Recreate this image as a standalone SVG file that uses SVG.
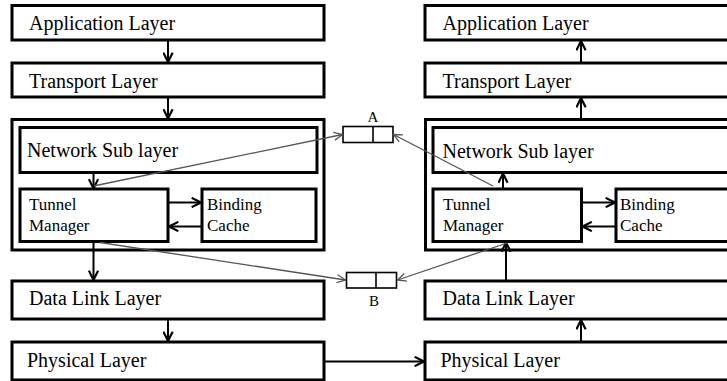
<svg xmlns="http://www.w3.org/2000/svg" width="727" height="381" viewBox="0 0 727 381">
  <style>
    .box { fill: #fff; stroke: #000; stroke-width: 3; }
    .buf { fill: #fff; stroke: #000; stroke-width: 1.6; }
    .lbl { font-family: "Liberation Serif", "Times New Roman", serif; font-size: 20px; fill: #000; }
    .sm { font-family: "Liberation Serif", "Times New Roman", serif; font-size: 17px; fill: #000; }
    .tag { font-family: "Liberation Serif", "Times New Roman", serif; font-size: 15px; fill: #000; text-anchor: middle; }
    .flow { stroke: #000; stroke-width: 2; fill: none; marker-end: url(#arr); }
    .tun { stroke: #555; stroke-width: 1.3; fill: none; marker-end: url(#arrG); }
  </style>
  <defs>
    <marker id="arr" viewBox="0 0 10 10" refX="9.5" refY="5" markerWidth="11" markerHeight="11" markerUnits="userSpaceOnUse" orient="auto">
      <path d="M1,0.8 L9.5,5 L1,9.2" fill="none" stroke="#000" stroke-width="2"/>
    </marker>
    <marker id="arrG" viewBox="0 0 10 10" refX="9.5" refY="5" markerWidth="10" markerHeight="10" markerUnits="userSpaceOnUse" orient="auto">
      <path d="M1,1 L9.5,5 L1,9" fill="none" stroke="#555" stroke-width="1.3"/>
    </marker>
  </defs>
  <rect width="727" height="381" fill="#fff"/>

  <!-- sending stack -->
  <g id="l-app">
    <rect class="box" x="12" y="5.5" width="312" height="34.5"/>
    <text class="lbl" x="29" y="30">Application Layer</text>
  </g>
  <g id="l-transport">
    <rect class="box" x="12" y="63" width="312" height="34"/>
    <text class="lbl" x="29" y="87.5">Transport Layer</text>
  </g>
  <g id="l-network">
    <rect class="box" x="12" y="119.5" width="312" height="130.5"/>
    <g id="l-netsub">
      <rect class="box" x="20" y="127.5" width="297" height="45"/>
      <text class="lbl" x="27" y="157">Network Sub layer</text>
    </g>
    <g id="l-tunnel">
      <rect class="box" x="20" y="189" width="148" height="52.5"/>
      <text class="sm" x="29" y="210">Tunnel</text>
      <text class="sm" x="29" y="231">Manager</text>
    </g>
    <g id="l-binding">
      <rect class="box" x="202" y="189" width="114" height="52.5"/>
      <text class="sm" x="207" y="210">Binding</text>
      <text class="sm" x="207" y="231">Cache</text>
    </g>
  </g>
  <g id="l-datalink">
    <rect class="box" x="12" y="281" width="312" height="38"/>
    <text class="lbl" x="29" y="305">Data Link Layer</text>
  </g>
  <g id="l-physical">
    <rect class="box" x="12" y="342" width="312" height="38"/>
    <text class="lbl" x="27" y="367">Physical Layer</text>
  </g>

  <!-- receiving stack (runs past the right edge) -->
  <g id="r-app">
    <rect class="box" x="425" y="5.5" width="320" height="34.5"/>
    <text class="lbl" x="442.5" y="30">Application Layer</text>
  </g>
  <g id="r-transport">
    <rect class="box" x="425" y="63" width="320" height="34"/>
    <text class="lbl" x="442.5" y="87.5">Transport Layer</text>
  </g>
  <g id="r-network">
    <rect class="box" x="425.5" y="119.5" width="320" height="130.5"/>
    <g id="r-netsub">
      <rect class="box" x="433" y="127.5" width="310" height="45"/>
      <text class="lbl" x="442.5" y="157.5">Network Sub layer</text>
    </g>
    <g id="r-tunnel">
      <rect class="box" x="433" y="189" width="148.5" height="52.5"/>
      <text class="sm" x="443" y="210">Tunnel</text>
      <text class="sm" x="443" y="231">Manager</text>
    </g>
    <g id="r-binding">
      <rect class="box" x="616" y="189" width="125" height="52.5"/>
      <text class="sm" x="620" y="210">Binding</text>
      <text class="sm" x="620" y="231">Cache</text>
    </g>
  </g>
  <g id="r-datalink">
    <rect class="box" x="425" y="281" width="320" height="38"/>
    <text class="lbl" x="442.5" y="305">Data Link Layer</text>
  </g>
  <g id="r-physical">
    <rect class="box" x="425" y="342" width="320" height="38"/>
    <text class="lbl" x="440.5" y="367">Physical Layer</text>
  </g>

  <!-- tunnel buffers -->
  <g id="buf-a">
    <rect class="buf" x="343" y="126.5" width="50" height="16"/>
    <line x1="373" y1="126.5" x2="373" y2="142.5" stroke="#000" stroke-width="1.6"/>
    <text class="tag" x="373" y="121.5">A</text>
  </g>
  <g id="buf-b">
    <rect class="buf" x="346.5" y="272.5" width="50" height="15.5"/>
    <line x1="376" y1="272.5" x2="376" y2="288" stroke="#000" stroke-width="1.6"/>
    <text class="tag" x="374" y="306">B</text>
  </g>

  <g id="connectors">
    <!-- sending side, top to bottom -->
    <line class="flow" x1="168" y1="40" x2="168" y2="62"/>
    <line class="flow" x1="168" y1="97" x2="168" y2="118.5"/>
    <line class="flow" x1="93.5" y1="173" x2="93.5" y2="188.5"/>
    <line class="flow" x1="168" y1="202.5" x2="201" y2="202.5"/>
    <line class="flow" x1="202" y1="226.5" x2="169" y2="226.5"/>
    <line class="flow" x1="93.5" y1="241.5" x2="93.5" y2="280"/>
    <line class="flow" x1="168" y1="319" x2="168" y2="341"/>
    <!-- physical link -->
    <line class="flow" x1="324" y1="361.5" x2="424" y2="361.5"/>
    <!-- receiving side, bottom to top -->
    <line class="flow" x1="581" y1="342" x2="581" y2="320"/>
    <line class="flow" x1="506" y1="281" x2="506" y2="242.5"/>
    <line class="flow" x1="581.5" y1="202.5" x2="615" y2="202.5"/>
    <line class="flow" x1="616" y1="226.5" x2="582.5" y2="226.5"/>
    <line class="flow" x1="503" y1="189" x2="503" y2="173.5"/>
    <line class="flow" x1="581" y1="119.5" x2="581" y2="98"/>
    <line class="flow" x1="581" y1="63" x2="581" y2="41"/>
    <!-- tunnel paths through buffers -->
    <line class="tun" x1="93.5" y1="186" x2="342.5" y2="134.5"/>
    <line class="tun" x1="493" y1="186" x2="393.5" y2="134.5"/>
    <line class="tun" x1="100" y1="242.5" x2="345.5" y2="280"/>
    <line class="tun" x1="507" y1="243" x2="397.5" y2="280"/>
  </g>
</svg>
